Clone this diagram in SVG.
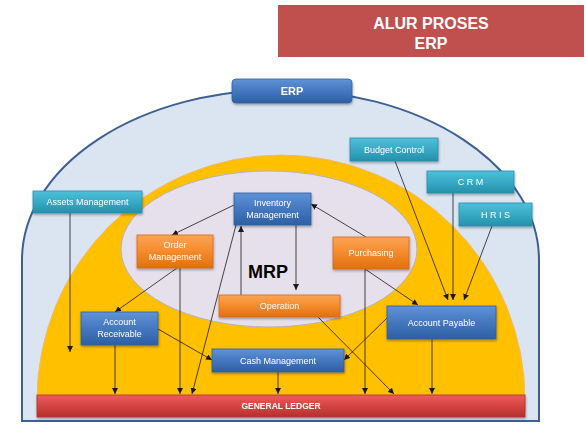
<svg xmlns="http://www.w3.org/2000/svg" width="586" height="426" viewBox="0 0 586 426">
<style>
.t{font-family:"Liberation Sans",Arial,sans-serif;fill:#fff;text-anchor:middle;font-size:9px}
.b{font-weight:bold}
.ln{stroke:#1a1a1a;stroke-width:0.8;fill:none;marker-end:url(#ah)}
.blue{fill:url(#gB);stroke:#2f5f9f;stroke-width:0.8}
.teal{fill:url(#gT);stroke:#2a8ea8;stroke-width:0.8}
.orng{fill:url(#gO);stroke:#d86a12;stroke-width:0.8}
</style>
<defs>
<marker id="ah" markerWidth="6" markerHeight="6" refX="6" refY="3" orient="auto" markerUnits="userSpaceOnUse">
<path d="M0,0 L6,3 L0,6 Z" fill="#1a1a1a"/>
</marker>
<linearGradient id="gB" x1="0" y1="0" x2="0" y2="1"><stop offset="0" stop-color="#5f93d6"/><stop offset="0.5" stop-color="#4477bf"/><stop offset="1" stop-color="#2d5fa3"/></linearGradient>
<linearGradient id="gT" x1="0" y1="0" x2="0" y2="1"><stop offset="0" stop-color="#4fc0d8"/><stop offset="0.5" stop-color="#36aac6"/><stop offset="1" stop-color="#2690ab"/></linearGradient>
<linearGradient id="gO" x1="0" y1="0" x2="0" y2="1"><stop offset="0" stop-color="#fba456"/><stop offset="0.5" stop-color="#f58a2c"/><stop offset="1" stop-color="#e0700e"/></linearGradient>
<linearGradient id="gR" x1="0" y1="0" x2="0" y2="1"><stop offset="0" stop-color="#ec5d5b"/><stop offset="0.5" stop-color="#d44441"/><stop offset="1" stop-color="#b3302e"/></linearGradient>
<filter id="sh" x="-10%" y="-10%" width="120%" height="140%"><feDropShadow dx="0.5" dy="1.5" stdDeviation="1" flood-color="#000" flood-opacity="0.35"/></filter>
</defs>

<g id="title">
<rect x="278" y="5" width="306" height="52" fill="#c0504d"/>
<text class="t b" x="431" y="29" style="font-size:16px">ALUR PROSES</text>
<text class="t b" x="431" y="49" style="font-size:16px">ERP</text>
</g>

<g id="background">
<path d="M22,421 L22,260 A258,170 0 0 1 539,260 L539,421 Z" fill="#dbe5f1" stroke="#3d5f91" stroke-width="2"/>
<path d="M37,412 L37,400 A244,245 0 0 1 525,400 L525,412 Z" fill="#ffc000" stroke="#f2b870" stroke-width="1"/>
<ellipse cx="269" cy="249" rx="148" ry="78" fill="#e6e0ec" stroke="#b8b0c0" stroke-width="1"/>
<text x="268" y="278" font-family="Liberation Sans,Arial,sans-serif" font-size="18" font-weight="bold" fill="#000" text-anchor="middle">MRP</text>
</g>

<g id="connectors">
<line class="ln" x1="70" y1="213" x2="70" y2="352"/>
<line class="ln" x1="234" y1="205" x2="172" y2="235"/>
<line class="ln" x1="366" y1="237" x2="311" y2="204"/>
<line class="ln" x1="241" y1="295" x2="241" y2="226"/>
<line class="ln" x1="296" y1="225" x2="296" y2="290"/>
<line class="ln" x1="177" y1="268" x2="115" y2="312"/>
<line class="ln" x1="180" y1="268" x2="180" y2="394"/>
<line class="ln" x1="236" y1="225" x2="192" y2="394"/>
<line class="ln" x1="115" y1="345" x2="115" y2="394"/>
<line class="ln" x1="158" y1="329" x2="212" y2="360"/>
<line class="ln" x1="278" y1="372" x2="278" y2="394"/>
<line class="ln" x1="365" y1="269" x2="365" y2="394"/>
<line class="ln" x1="365" y1="269" x2="418" y2="305"/>
<line class="ln" x1="318" y1="317" x2="394" y2="394"/>
<line class="ln" x1="387" y1="318" x2="344" y2="360"/>
<line class="ln" x1="432" y1="339" x2="432" y2="394"/>
<line class="ln" x1="395" y1="161" x2="448" y2="300"/>
<line class="ln" x1="453" y1="193" x2="453" y2="300"/>
<line class="ln" x1="492" y1="226" x2="464" y2="300"/>
</g>

<g id="erp" filter="url(#sh)">
<rect class="blue" x="232" y="79" width="120" height="24" rx="4"/>
<text class="t b" x="292" y="95" style="font-size:11px">ERP</text>
</g>
<g id="assets-management" filter="url(#sh)">
<rect class="teal" x="33" y="191" width="109" height="22"/>
<text class="t" x="87.5" y="205">Assets Management</text>
</g>
<g id="budget-control" filter="url(#sh)">
<rect class="teal" x="350" y="138" width="88" height="23"/>
<text class="t" x="394" y="153">Budget Control</text>
</g>
<g id="crm" filter="url(#sh)">
<rect class="teal" x="427" y="171" width="87" height="22"/>
<text class="t" x="470.5" y="185">C R M</text>
</g>
<g id="hris" filter="url(#sh)">
<rect class="teal" x="459" y="203" width="73" height="23"/>
<text class="t" x="495.5" y="218">H R I S</text>
</g>
<g id="inventory-management" filter="url(#sh)">
<rect class="blue" x="234" y="193" width="77" height="32"/>
<text class="t" x="272.5" y="206">Inventory</text>
<text class="t" x="272.5" y="218">Management</text>
</g>
<g id="order-management" filter="url(#sh)">
<rect class="orng" x="137" y="235" width="76" height="33"/>
<text class="t" x="175" y="248">Order</text>
<text class="t" x="175" y="260">Management</text>
</g>
<g id="purchasing" filter="url(#sh)">
<rect class="orng" x="333" y="237" width="76" height="32"/>
<text class="t" x="371" y="256">Purchasing</text>
</g>
<g id="operation" filter="url(#sh)">
<rect class="orng" x="219" y="295" width="121" height="22"/>
<text class="t" x="279.5" y="309">Operation</text>
</g>
<g id="account-receivable" filter="url(#sh)">
<rect class="blue" x="81" y="312" width="77" height="33"/>
<text class="t" x="119.5" y="325">Account</text>
<text class="t" x="119.5" y="337">Receivable</text>
</g>
<g id="cash-management" filter="url(#sh)">
<rect class="blue" x="212" y="349" width="132" height="23"/>
<text class="t" x="278" y="364">Cash Management</text>
</g>
<g id="account-payable" filter="url(#sh)">
<rect class="blue" x="387" y="306" width="109" height="33"/>
<text class="t" x="441.5" y="326">Account Payable</text>
</g>
<g id="general-ledger" filter="url(#sh)">
<rect x="37" y="395" width="488" height="22" fill="url(#gR)" stroke="#a83533" stroke-width="0.8"/>
<text class="t b" x="281" y="409" style="font-size:8.5px">GENERAL LEDGER</text>
</g>
</svg>
